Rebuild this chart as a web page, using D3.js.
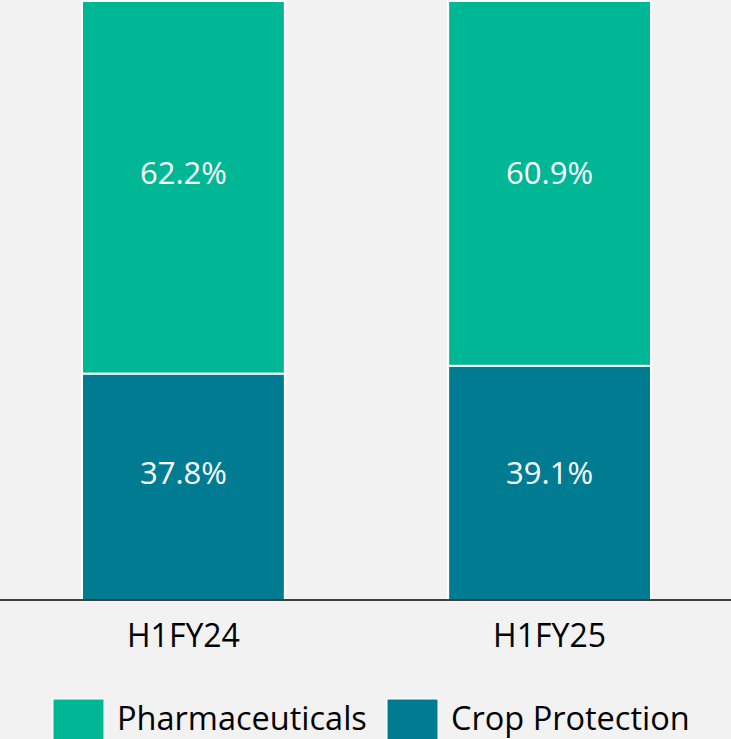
<!DOCTYPE html>
<html>
<head>
<meta charset="utf-8">
<script src="https://cdn.jsdelivr.net/npm/d3@7"></script>
<style>
  html, body { margin: 0; padding: 0; background: #f2f2f2; }
  svg { display: block; }
</style>
</head>
<body>
<div id="chart"></div>
<script>
// Stacked 100% bar - revenue share by segment

const categories = ["H1FY24", "H1FY25"];
const seriesNames = ["Crop Protection", "Pharmaceuticals"];
const cropProtection = [37.8, 39.1];
const pharmaceuticals = [62.2, 60.9];
const legendOrder = ["Pharmaceuticals", "Crop Protection"];

const width = 731;
const height = 739;
const baseline = 600;
const font = "'Open Sans', 'Noto Sans', sans-serif";

const colors = {
    "Pharmaceuticals": "#00b795",
    "Crop Protection": "#007c92"
};

const rows = categories.map((c, i) => ({
    cat: c,
    "Crop Protection": cropProtection[i],
    "Pharmaceuticals": pharmaceuticals[i]
}));

const stack = d3.stack().keys(seriesNames);
const stacked = stack(rows);

const svg = d3.select("#chart")
    .append("svg")
    .attr("width", width)
    .attr("height", height)
    .style("background", "#f2f2f2");

const xScale = d3.scaleBand()
    .domain(categories)
    .range([0, 733])
    .paddingInner(0.446)
    .paddingOuter(0.224);

const yScale = d3.scaleLinear()
    .domain([0, 100])
    .range([baseline, 1]);

const layers = svg.selectAll("g.layer")
    .data(stacked)
    .join("g")
    .attr("class", "layer")
    .attr("fill", d => colors[d.key]);

layers.selectAll("rect")
    .data(d => d)
    .join("rect")
    .attr("x", d => xScale(d.data.cat))
    .attr("y", d => yScale(d[1]))
    .attr("width", xScale.bandwidth())
    .attr("height", d => yScale(d[0]) - yScale(d[1]))
    .attr("stroke", "#ffffff")
    .attr("stroke-width", 2);

// labels sit on one line per series (mean of the segment middles)
layers.each(function(layer) {
    const labelY = d3.mean(layer, v => (yScale(v[0]) + yScale(v[1])) / 2) - 1;
    d3.select(this).selectAll("text")
        .data(layer)
        .join("text")
        .attr("x", v => xScale(v.data.cat) + xScale.bandwidth() / 2)
        .attr("y", labelY)
        .attr("text-anchor", "middle")
        .attr("fill", "#ffffff")
        .style("font-family", font)
        .style("font-size", "31px")
        .text(v => v.data[layer.key].toFixed(1) + "%");
});

// x axis
const xAxis = svg.append("g")
    .attr("transform", `translate(0, ${baseline})`);

xAxis.append("line")
    .attr("x1", 0)
    .attr("x2", width)
    .attr("stroke", "#000")
    .attr("stroke-width", 1.5);

xAxis.selectAll("text")
    .data(categories)
    .join("text")
    .attr("x", d => xScale(d) + xScale.bandwidth() / 2)
    .attr("y", 47)
    .attr("text-anchor", "middle")
    .attr("fill", "#000")
    .style("font-family", font)
    .style("font-size", "32px")
    .text(d => d);

// legend
const legendX = [53, 387];
const legend = svg.append("g");

const items = legend.selectAll("g")
    .data(legendOrder)
    .join("g")
    .attr("transform", (d, i) => `translate(${legendX[i]}, 699)`);

items.append("rect")
    .attr("width", 51)
    .attr("height", 50)
    .attr("fill", d => colors[d])
    .attr("stroke", "#ffffff")
    .attr("stroke-width", 1);

items.append("text")
    .attr("x", 64)
    .attr("y", 31)
    .attr("fill", "#000")
    .style("font-family", font)
    .style("font-size", "32.5px")
    .text(d => d);
</script>
</body>
</html>
